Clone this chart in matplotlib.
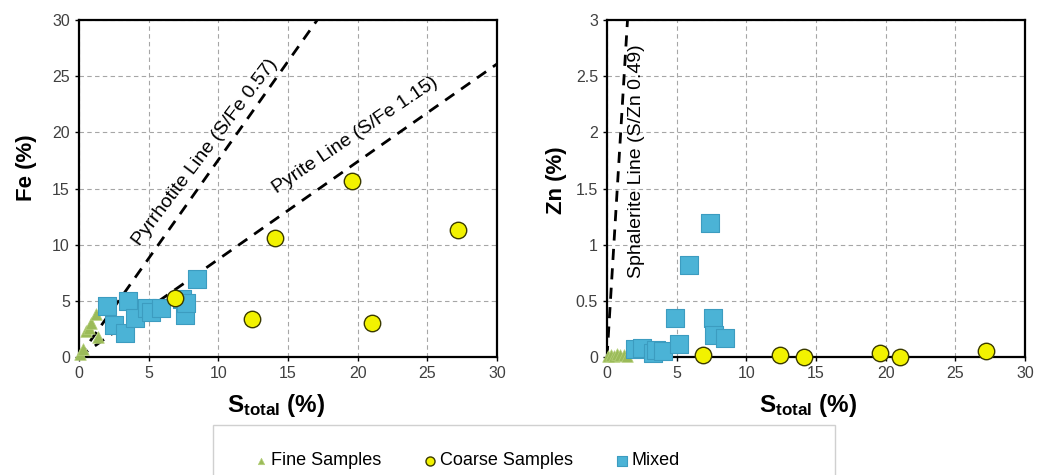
"""Fe and Zn versus total sulphur, with stoichiometric reference lines."""
import matplotlib
matplotlib.use('Agg')
import matplotlib.pyplot as plt
from matplotlib.patches import Rectangle
from matplotlib.ticker import FormatStrFormatter
import numpy as np

plt.rcParams['font.family'] = ['Liberation Sans', 'DejaVu Sans']
plt.rcParams['mathtext.fontset'] = 'custom'
plt.rcParams['mathtext.rm'] = 'Liberation Sans'
plt.rcParams['mathtext.bf'] = 'Liberation Sans:bold'

# Data
fine_s = [0.1, 0.3, 0.5, 0.7, 0.9, 1.2, 1.4]
fine_fe = [0.3, 0.7, 2.3, 2.6, 3.0, 3.8, 1.8]
fine_zn = [0.01, 0.02, 0.01, 0.03, 0.02, 0.02, 0.01]

coarse_s = [6.9, 12.4, 14.1, 19.6, 21.0, 27.2]
coarse_fe = [5.25, 3.4, 10.6, 15.7, 3.0, 11.3]
coarse_zn = [0.02, 0.02, 0.0, 0.04, 0.0, 0.055]

mixed_s = [2.0, 2.5, 3.3, 3.5, 4.0, 4.9, 5.2, 5.9, 7.4, 7.6, 7.7, 8.5]
mixed_fe = [4.5, 2.85, 2.1, 5.0, 3.5, 4.4, 4.0, 4.4, 5.2, 3.7, 4.8, 6.9]
mixed_zn = [0.07, 0.08, 0.04, 0.06, 0.05, 0.35, 0.12, 0.82, 1.19, 0.35, 0.2, 0.17]

# reference ratios S/metal
pyrrhotite_ratio = 0.57
pyrite_ratio = 1.15
sphalerite_ratio = 0.49

GREEN = '#9BBB59'
YELLOW = '#F2F200'
BLUE = '#4BB3D6'
TICK = '#404040'
GRID = '#A6A6A6'

fig = plt.figure(figsize=(10.43, 4.75), dpi=100, facecolor='white')
ax1 = fig.add_axes([0.0757, 0.2484, 0.4008, 0.7095])
ax2 = fig.add_axes([0.582, 0.2484, 0.4008, 0.7095])

s_line = np.array([0, 60])


def style(ax, ymax, ystep, xlab_x):
    ax.set_xlim(0, 30)
    ax.set_ylim(0, ymax)
    ax.set_xticks(np.arange(0, 31, 5))
    ax.set_yticks(np.arange(0, ymax + ystep / 2, ystep))
    ax.yaxis.set_major_formatter(FormatStrFormatter('%g'))
    ax.grid(True, linestyle=(0, (4, 3)), color=GRID, linewidth=0.8)
    ax.set_axisbelow(True)
    for sp in ax.spines.values():
        sp.set_linewidth(1.6)
        sp.set_color('black')
    ax.tick_params(direction='out', length=3, width=1, colors='black',
                   labelcolor=TICK, labelsize=11.5)
    ax.set_xlabel(r'$\mathbf{S_{total}}$ (%)', fontsize=17.5, fontweight='bold')
    ax.xaxis.set_label_coords(xlab_x, -0.105)


def points(ax, fine_y, coarse_y, mixed_y):
    ax.scatter(fine_s, fine_y, marker='^', s=70, color=GREEN, edgecolor='#B5CF7A',
               linewidth=0.5, zorder=3, clip_on=False, label='Fine Samples')
    ax.scatter(coarse_s, coarse_y, marker='o', s=140, color=YELLOW, edgecolor='#3A3A00',
               linewidth=1.0, zorder=4, clip_on=False, label='Coarse Samples')
    ax.scatter(mixed_s, mixed_y, marker='s', s=170, color=BLUE, edgecolor='#3C9CC0',
               linewidth=0.8, zorder=3, clip_on=False, label='Mixed')


# Left panel: Fe
style(ax1, 30, 5, 0.4725)
ax1.plot(s_line, s_line / pyrrhotite_ratio, color='black', lw=2.0,
         dashes=(4, 3), zorder=2)
ax1.plot(s_line, s_line / pyrite_ratio, color='black', lw=2.0,
         dashes=(4, 3), zorder=2)
points(ax1, fine_fe, coarse_fe, mixed_fe)
ax1.set_ylabel('Fe (%)', fontsize=16, fontweight='bold')
ax1.yaxis.set_label_coords(-0.1, 0.562)
ax1.text(9.05, 18.2, 'Pyrrhotite Line (S/Fe 0.57)', rotation=53,
         rotation_mode='anchor', ha='center', va='center', fontsize=14)
ax1.text(19.8, 19.7, 'Pyrite Line (S/Fe 1.15)', rotation=34,
         rotation_mode='anchor', ha='center', va='center', fontsize=14)

# Right panel: Zn
style(ax2, 3, 0.5, 0.482)
ax2.plot(s_line, s_line / sphalerite_ratio, color='black', lw=2.0,
         dashes=(4, 3), zorder=2)
points(ax2, fine_zn, coarse_zn, mixed_zn)
ax2.set_ylabel('Zn (%)', fontsize=16, fontweight='bold')
ax2.yaxis.set_label_coords(-0.095, 0.525)
ax2.text(2.1, 1.745, 'Sphalerite Line (S/Zn 0.49)', rotation=90,
         ha='center', va='center', fontsize=14)

# Legend box at bottom, running off the figure edge
fig.patches.append(Rectangle((213 / 1043, -0.1), 622 / 1043, 0.205,
                             transform=fig.transFigure, facecolor='white',
                             edgecolor='#D0D0D0', linewidth=1.0))
handles, labels = ax1.get_legend_handles_labels()
fig.legend(handles, labels, loc='center', bbox_to_anchor=(0.447, 0.03),
           ncol=3, frameon=False, fontsize=13, markerscale=0.55,
           handletextpad=0.05, columnspacing=2.2, handlelength=1.0)

plt.savefig('out.png', dpi=100, facecolor='white')
plt.close()
